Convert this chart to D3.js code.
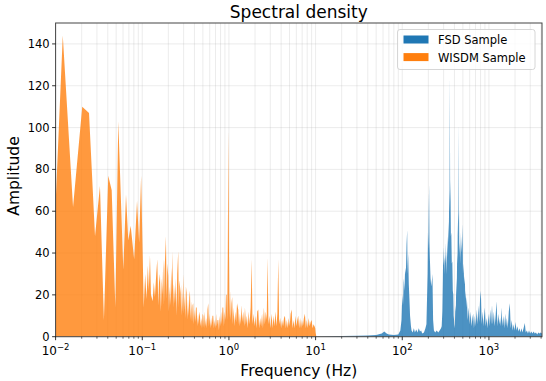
<!DOCTYPE html>
<html><head><meta charset="utf-8">
<script src="https://cdn.jsdelivr.net/npm/d3@7"></script>
<style>body{margin:0;background:#fff}svg{display:block}text{font-family:"DejaVu Sans",sans-serif;fill:#000}</style>
</head><body><svg id="c" width="546" height="381"></svg>
<script>
// WISDM sample (orange): frequency (Hz) / amplitude
const wisdmFreq = [0.0098,0.0121,0.0159,0.0203,0.0243,0.0285,0.0325,0.0361,0.0405,0.0444,0.0489,0.0529,0.0604,0.0649,0.0690,0.0735,0.0806,0.0870,0.0920,0.097,0.104,
0.108,0.112,0.116,0.119,0.1227,0.126,0.1318,0.136,0.140,0.145,0.149,0.153,0.156,0.160,0.164,0.168,0.171,0.1746,0.178,0.181,0.1876,0.191,0.195,0.1995,0.203,0.207,0.211,0.216,0.220,0.2243,0.228,0.232,0.2385,0.243,0.248,0.253,0.260,0.264,0.268,0.2773,0.282,0.287,0.292,0.297,0.302,0.308,0.314,0.319,0.325,0.331,0.337,0.343,0.349,0.355,0.361,0.368,0.375,0.381,0.387,0.394,0.401,0.409,0.416,0.424,0.432,0.440,0.448,0.455,0.463,0.471,0.480,0.489,0.497,0.506,0.516,0.526,0.536,0.546,0.556,0.566,0.577,0.588,0.599,0.610,0.622,0.634,0.646,0.659,0.671,0.684,0.697,0.711,0.725,0.739,0.753,0.767,0.782,0.797,0.812,0.828,0.843,0.859,0.876,0.893,0.910,0.925,0.940,0.955,0.970,0.986,1.000,1.015,1.030,1.05,1.07,1.09,1.11,1.13,1.16,1.18,1.21,1.24,1.28,1.31,1.34,1.37,1.40,1.43,1.46,1.50,1.53,1.57,1.61,1.65,1.69,1.73,1.78,1.83,1.87,1.92,1.97,2.02,2.07,2.12,2.18,2.23,2.29,2.35,2.41,2.47,2.53,2.60,2.66,2.73,2.79,2.86,2.93,3.00,3.08,3.11,3.19,3.27,3.35,3.44,3.53,3.62,3.71,3.80,3.90,4.00,4.10,4.21,4.32,4.43,4.54,4.66,4.78,4.90,5.02,5.15,5.29,5.42,5.56,5.70,5.85,6.00,6.15,6.30,6.46,6.62,6.79,6.96,7.14,7.33,7.53,7.72,7.92,8.12,8.33,8.55,8.77,9.00,9.23,9.47,9.71,9.90,10.0,10.2];
const wisdmAmp = [55,144,62,110,107,48,72,8,77,70,14,103,32,68,46,53,37,65,45,77,14,
30,18,34,22,39,20,17,26,19,30,37,15,26,30,12,28,20,37,15,32,48,18,35,29,12,24,15,33,20,41,14,25,16,28,10,30,41,14,27,21,10,25,12,30,11,20,9,24,21,8,18,10,19,22,8,17,7,15,16,6,13,7,14,14,5,11,6,12,10,5,9,4,11,10,4,12,5,9,4,13,16,5,11,4,9,5,10,10,4,8,4,11,5,8,8,3,10,5,12,6,14,14,5,12,8,20,20,8,40,99,45,9,22,8,16,19,6,14,5,12,7,16,13,5,11,6,15,7,12,5,14,6,10,4,12,6,14,37,6,11,5,10,4,12,13,4,9,5,11,4,14,6,12,8,38,6,10,4,9,11,4,10,5,12,5,11,37,6,9,4,8,5,9,10,4,8,4,9,5,11,13,4,8,4,10,5,8,10,4,9,4,8,5,9,11,4,8,4,9,5,7,8,4,6,5,4,2,0];

// FSD sample (blue): frequency (Hz) / amplitude
const fsdFreq = [10.5,20,30,40,50,58,62,66,70,80,90,95,98,100,102,104,106,108,110,112,114,115,117,119,121,123,126,128,132,136,140,145,150,155,160,165,170,178,185,190,193,196,198,200,202,204,206,208,212,216,220,223,227,232,240,250,260,270,280,285,290,294,297,301,305,309,312,316,320,325,330,335,340,344,348,351,354,357,360,364,368,373,378,383,388,392,396,400,405,410,415,420,425,430,434,437,440,442,444,448,452,455,460,465,470,475,480,485,490,496,502,510,518,527,534,540,548,556,570,585,600,615,630,645,658,672,688,705,720,738,755,772,790,807,825,845,865,880,897,918,940,962,985,1010,1035,1060,1085,1110,1140,1165,1195,1224,1255,1285,1315,1345,1370,1399,1430,1465,1500,1540,1575,1610,1650,1695,1742,1785,1830,1880,1925,1975,2030,2080,2135,2190,2250,2310,2370,2440,2510,2595,2660,2740,2820,2900,2990,3080,3180,3280,3380,3490,3600,3720,3840,3960,4096];
const fsdAmp = [0,0.3,0.4,0.6,0.8,1.5,2.5,1.5,1,0.8,1,3,8,20,15,28,22,33,30,44,51,30,40,25,18,10,5,3,2,4,2,3.5,2,4,2.5,3,1.5,2,4,6,18,30,50,42,60,73,45,38,28,24,27,30,8,3,2,3,2,3,4,5,12,28,43,34,38,30,45,35,40,30,48,38,55,45,70,60,126,65,75,48,50,35,36,22,20,10,8,4,6,15,12,28,20,40,35,55,48,70,103,55,60,40,45,35,50,38,48,40,45,54,30,35,25,29,18,22,14,19,8,14,6,12,5,9,11,4,10,5,13,6,15,7,18,22,6,12,5,10,14,5,9,4,11,5,13,6,15,6,12,5,10,17,5,11,6,9,5,14,5,10,4,11,5,9,4,12,16,4,8,3,6,3,7,3,5,2.5,4,2,4,2,4,6.5,2,3,1.5,3,1.5,2.5,1.5,2.5,1.5,2,1,2,1.5,2,1.5];

const xTicks = [0.01,0.1,1,10,100,1000];
const xTickExp = ["\u22122","\u22121","0","1","2","3"];
const yTicks = [0,20,40,60,80,100,120,140];
const seriesNames = ["FSD Sample","WISDM Sample"];
const seriesColors = ["#1f77b4","#ff7f0e"];

const svg = d3.select("#c");
const L=55.6, R=542, T=23, B=336.7;
const x = d3.scaleLog().domain([0.01,4096]).range([L,R]);
const y = d3.scaleLinear().domain([0,150]).range([B,T]);

// grid
const minor = [];
for (let e=-2;e<=3;e++) for (let m=1;m<=9;m++){const v=m*Math.pow(10,e); if(v<=4096) minor.push(v);}
const g = svg.append("g");
g.selectAll("line.vx").data(minor).join("line")
  .attr("x1",d=>x(d)).attr("x2",d=>x(d)).attr("y1",T).attr("y2",B)
  .attr("stroke","#b0b0b0").attr("stroke-opacity",0.3).attr("stroke-width",0.8);
g.selectAll("line.hy").data(yTicks).join("line")
  .attr("x1",L).attr("x2",R).attr("y1",d=>y(d)).attr("y2",d=>y(d))
  .attr("stroke","#b0b0b0").attr("stroke-opacity",0.3).attr("stroke-width",0.8);

svg.append("clipPath").attr("id","clip").append("rect").attr("x",L).attr("y",T).attr("width",R-L).attr("height",B-T);
const area = d3.area().x(d=>x(d[0])).y0(y(0)).y1(d=>y(d[1]));
const fsd = fsdFreq.map((f,i)=>[f,fsdAmp[i]]);
const wis = wisdmFreq.map((f,i)=>[f,wisdmAmp[i]]);
const pg = svg.append("g").attr("clip-path","url(#clip)");
pg.append("path").datum(fsd).attr("d",area).attr("fill",seriesColors[0]).attr("fill-opacity",0.8);
pg.append("path").datum(wis).attr("d",area).attr("fill",seriesColors[1]).attr("fill-opacity",0.8);

// spines
svg.append("rect").attr("x",L).attr("y",T).attr("width",R-L).attr("height",B-T)
  .attr("fill","none").attr("stroke","#444").attr("stroke-width",1);

// x axis
const xa = svg.append("g");
xa.selectAll("line.mj").data(xTicks).join("line")
  .attr("x1",d=>x(d)).attr("x2",d=>x(d)).attr("y1",B).attr("y2",B+3.5).attr("stroke","#000").attr("stroke-width",0.8);
xa.selectAll("line.mn").data(minor.filter(v=>xTicks.indexOf(v)<0)).join("line")
  .attr("x1",d=>x(d)).attr("x2",d=>x(d)).attr("y1",B).attr("y2",B+2).attr("stroke","#000").attr("stroke-width",0.6);
xTicks.forEach((t,i)=>{
  const tx = xa.append("text").attr("x",x(t)).attr("y",355).attr("text-anchor","middle").attr("font-size",12);
  tx.append("tspan").text("10");
  tx.append("tspan").attr("dy",-5).attr("font-size",8.5).text(xTickExp[i]);
});
// y axis
const ya = svg.append("g");
ya.selectAll("line").data(yTicks).join("line")
  .attr("x1",L-3.5).attr("x2",L).attr("y1",d=>y(d)).attr("y2",d=>y(d)).attr("stroke","#000").attr("stroke-width",0.8);
ya.selectAll("text").data(yTicks).join("text")
  .attr("x",L-6).attr("y",d=>y(d)+4).attr("text-anchor","end").attr("font-size",11.5).text(d=>d);

// labels
svg.append("text").attr("x",(L+R)/2).attr("y",18).attr("text-anchor","middle").attr("font-size",17).text("Spectral density");
svg.append("text").attr("x",(L+R)/2).attr("y",376).attr("text-anchor","middle").attr("font-size",15.5).text("Frequency (Hz)");
svg.append("text").attr("transform",`translate(18.5,176) rotate(-90)`).attr("text-anchor","middle").attr("font-size",15.5).text("Amplitude");

// legend
const lg = svg.append("g");
lg.append("rect").attr("x",397.5).attr("y",29.5).attr("width",137.5).attr("height",40).attr("rx",2.5)
  .attr("fill","#fff").attr("fill-opacity",0.8).attr("stroke","#ccc").attr("stroke-width",0.8);
seriesNames.forEach((n,i)=>{
  lg.append("rect").attr("x",403.5).attr("y",35.5+i*17.6).attr("width",25).attr("height",8).attr("fill",seriesColors[i]);
  lg.append("text").attr("x",438).attr("y",44+i*17.6).attr("font-size",11.5).text(n);
});
</script></body></html>
